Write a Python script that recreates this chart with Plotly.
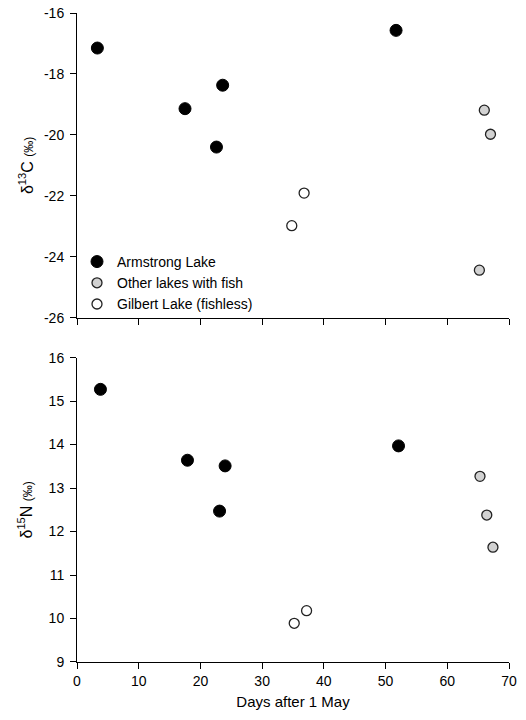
import plotly.graph_objects as go
from plotly.subplots import make_subplots

# ---- data ----
# Top panel: delta 13C
arm_c_days = [3.3, 17.5, 22.6, 23.6, 51.7]
arm_c_vals = [-17.15, -19.14, -20.40, -18.37, -16.57]
oth_c_days = [65.2, 66.0, 67.0]
oth_c_vals = [-24.44, -19.19, -19.98]
gil_c_days = [34.8, 36.8]
gil_c_vals = [-22.98, -21.91]

# Bottom panel: delta 15N
arm_n_days = [3.8, 17.9, 23.1, 24.0, 52.1]
arm_n_vals = [15.27, 13.64, 12.47, 13.51, 13.97]
oth_n_days = [65.3, 66.4, 67.4]
oth_n_vals = [13.27, 12.38, 11.64]
gil_n_days = [35.2, 37.2]
gil_n_vals = [9.89, 10.18]

x_ticks = [0, 10, 20, 30, 40, 50, 60, 70]
c_ticks = [-26, -24, -22, -20, -18, -16]
c_tick_labels = ["-26", "-24", "-22", "-20", "-18", "-16"]
n_ticks = [9, 10, 11, 12, 13, 14, 15, 16]

series_names = ["Armstrong Lake", "Other lakes with fish", "Gilbert Lake (fishless)"]

FONT = "Liberation Sans, Arial, sans-serif"

fig = make_subplots(rows=2, cols=1, shared_xaxes=False, vertical_spacing=0.0)

black = dict(size=12, color="black", line=dict(color="black", width=1))
gray = dict(size=10, color="#d2d2d2", line=dict(color="#222222", width=1.3))
white = dict(size=10, color="white", line=dict(color="#222222", width=1.3))

fig.add_trace(go.Scatter(x=arm_c_days, y=arm_c_vals, mode="markers", marker=black,
                         name=series_names[0], showlegend=True), row=1, col=1)
fig.add_trace(go.Scatter(x=oth_c_days, y=oth_c_vals, mode="markers", marker=gray,
                         name=series_names[1], showlegend=True), row=1, col=1)
fig.add_trace(go.Scatter(x=gil_c_days, y=gil_c_vals, mode="markers", marker=white,
                         name=series_names[2], showlegend=True), row=1, col=1)

fig.add_trace(go.Scatter(x=arm_n_days, y=arm_n_vals, mode="markers", marker=black,
                         name=series_names[0], showlegend=False), row=2, col=1)
fig.add_trace(go.Scatter(x=oth_n_days, y=oth_n_vals, mode="markers", marker=gray,
                         name=series_names[1], showlegend=False), row=2, col=1)
fig.add_trace(go.Scatter(x=gil_n_days, y=gil_n_vals, mode="markers", marker=white,
                         name=series_names[2], showlegend=False), row=2, col=1)

axis_common = dict(showline=True, linecolor="black", linewidth=1, ticks="outside",
                   ticklen=6, tickcolor="black", tickwidth=1, showgrid=False,
                   zeroline=False, automargin=False,
                   tickfont=dict(family=FONT, size=14, color="black"))

fig.update_xaxes(range=[0, 70], tickvals=x_ticks, **axis_common)
fig.update_xaxes(showticklabels=False, row=1, col=1)
fig.update_xaxes(title=dict(text="Days after 1 May", font=dict(family=FONT, size=15, color="black"),
                            standoff=8), row=2, col=1)

fig.update_yaxes(range=[-26, -16], tickvals=c_ticks, ticktext=c_tick_labels,
                 ticklabelstandoff=3, row=1, col=1, **axis_common,
                 title=dict(text="δ<sup>13</sup>C <span style='font-size:12px'>(‰)</span>",
                            font=dict(family=FONT, size=16, color="black"), standoff=6))
fig.update_yaxes(range=[9, 16], tickvals=n_ticks, ticklabelstandoff=3, row=2, col=1, **axis_common,
                 title=dict(text="δ<sup>15</sup>N <span style='font-size:12px'>(‰)</span>",
                            font=dict(family=FONT, size=16, color="black"), standoff=12))

fig.update_layout(
    width=526, height=720,
    margin=dict(l=77, r=17, t=13, b=58),
    paper_bgcolor="white", plot_bgcolor="white",
    font=dict(family=FONT, color="black"),
    yaxis=dict(domain=[0.5305, 1.0]),
    yaxis2=dict(domain=[0.0, 0.469]),
    legend=dict(x=0.0, y=0.527, xanchor="left", yanchor="bottom",
                bgcolor="rgba(0,0,0,0)", font=dict(family=FONT, size=14, color="black"),
                tracegroupgap=0, itemsizing="trace"),
)

# remove the default 8 px page margin so the figure fills the window exactly
fig.write_html("out.html", config={"displayModeBar": False},
               post_script="document.body.style.margin='0';")
